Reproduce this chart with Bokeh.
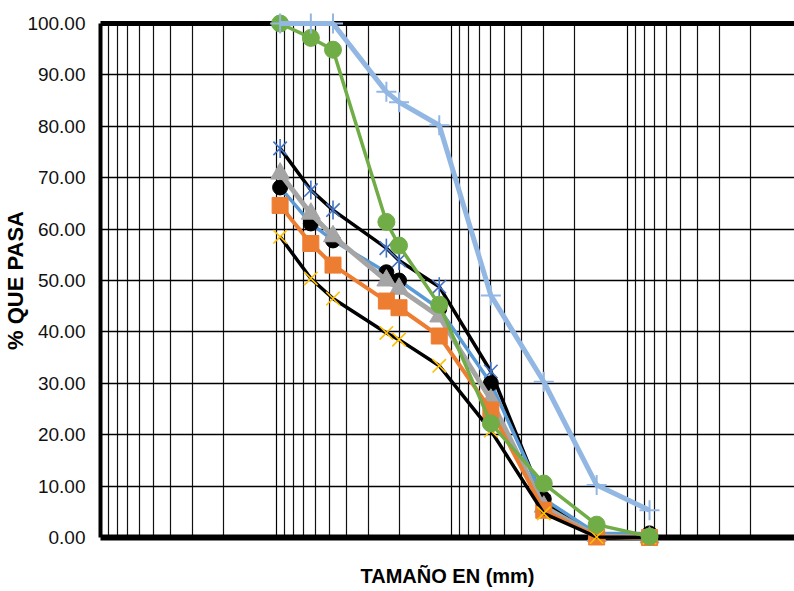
import math
from bokeh.plotting import figure
from bokeh.models import Range1d, FixedTicker, LogAxis, PrintfTickFormatter
from bokeh.embed import file_html
from bokeh.resources import INLINE

# Sieve openings (mm)
sizes_mm = [9.5, 6.35, 4.75, 2.36, 2.0, 1.18, 0.6, 0.3, 0.15, 0.075]

# % passing for each sample
s_asterisk = [75.7, 67.6, 63.7, 56.3, 53.9, 48.8, 32.3, 7.0, 0.4, 0.2]
s_black_circle = [68.1, 61.1, 57.8, 51.6, 50.0, 44.5, 30.0, 7.5, 0.8, 0.8]
s_triangle = [70.8, 63.0, 58.6, 50.0, 48.4, 43.0, 26.8, 6.0, 0.3, 0.0]
s_square = [64.6, 57.2, 53.0, 46.0, 44.7, 39.2, 24.8, 5.3, 0.1, 0.0]
s_x = [58.5, 50.4, 46.5, 39.8, 38.5, 33.4, 20.8, 4.7, 0.1, 0.0]
s_green = [100.0, 97.2, 94.9, 61.4, 56.8, 45.3, 22.2, 10.5, 2.5, 0.2]
s_lightblue = [100.0, 100.0, 100.0, 86.7, 84.7, 80.2, 47.1, 30.3, 10.2, 5.3]

y_ticks = [0, 10, 20, 30, 40, 50, 60, 70, 80, 90, 100]
x_decades = [100, 10, 1, 0.1, 0.01]
x_minor = [k * d for d in [10, 1, 0.1, 0.01] for k in range(2, 10)]

FONT = "Liberation Sans"

p = figure(width=794, height=591, x_axis_type="log",
           x_range=Range1d(100, 0.01122), y_range=Range1d(0, 100),
           output_backend="svg", toolbar_location=None,
           min_border_left=100, min_border_right=0,
           min_border_top=23, min_border_bottom=54)
p.outline_line_color = None
p.background_fill_color = "white"
p.border_fill_color = "white"

# grids
p.xgrid.ticker = FixedTicker(ticks=x_decades, minor_ticks=x_minor)
p.xgrid.grid_line_color = "black"
p.xgrid.grid_line_width = 1.2
p.xgrid.minor_grid_line_color = "#111111"
p.xgrid.minor_grid_line_width = 1.2
p.ygrid.ticker = FixedTicker(ticks=y_ticks)
p.ygrid.grid_line_color = "black"
p.ygrid.grid_line_width = 1.4

# x axis (bottom)
xa = p.xaxis[0]
xa.ticker = FixedTicker(ticks=[])
xa.axis_line_width = 6
xa.axis_line_color = "black"
xa.major_tick_line_color = None
xa.minor_tick_line_color = None
xa.axis_label = "TAMAÑO EN (mm)"
xa.axis_label_text_font = FONT
xa.axis_label_text_font_style = "bold"
xa.axis_label_text_font_size = "20px"
xa.axis_label_text_color = "black"
xa.axis_label_standoff = 27

# top border axis
top = LogAxis(ticker=FixedTicker(ticks=[]), axis_line_width=5, axis_line_color="black",
              major_tick_line_color=None, minor_tick_line_color=None)
p.add_layout(top, "above")

# y axis
ya = p.yaxis[0]
ya.ticker = FixedTicker(ticks=y_ticks)
ya.formatter = PrintfTickFormatter(format="%.2f")
ya.axis_line_width = 4
ya.axis_line_color = "black"
ya.major_tick_line_color = None
ya.minor_tick_line_color = None
ya.major_label_standoff = 9
ya.major_label_text_font = FONT
ya.major_label_text_font_size = "19px"
ya.major_label_text_color = "#111111"
ya.axis_label = "% QUE PASA"
ya.axis_label_text_font = FONT
ya.axis_label_text_font_style = "bold"
ya.axis_label_text_font_size = "22px"
ya.axis_label_text_color = "black"
ya.axis_label_standoff = -4

renderers = []
# series
renderers.append(p.line(sizes_mm, s_asterisk, line_color="black", line_width=3.5))
renderers.append(p.scatter(sizes_mm, s_asterisk, marker="x", size=19, line_color="#4472C4", line_width=1.6))
renderers.append(p.scatter(sizes_mm, s_asterisk, marker="dash", angle=math.pi / 2, size=19,
                           line_color="#4472C4", line_width=1.6))

renderers.append(p.line(sizes_mm, s_black_circle, line_color="#5B9BD5", line_width=3.5))
renderers.append(p.scatter(sizes_mm, s_black_circle, marker="circle", size=15, fill_color="black", line_color="black"))

renderers.append(p.line(sizes_mm, s_triangle, line_color="#A5A5A5", line_width=5))
renderers.append(p.scatter(sizes_mm, s_triangle, marker="triangle", size=19, fill_color="#A5A5A5", line_color="#A5A5A5"))

renderers.append(p.line(sizes_mm, s_square, line_color="#ED7D31", line_width=4))
renderers.append(p.scatter(sizes_mm, s_square, marker="square", size=16, fill_color="#ED7D31", line_color="#ED7D31"))

renderers.append(p.line(sizes_mm, s_x, line_color="black", line_width=3.5))
renderers.append(p.scatter(sizes_mm, s_x, marker="x", size=19, line_color="#FFC000", line_width=1.6))

renderers.append(p.line(sizes_mm, s_green, line_color="#70AD47", line_width=3.5))
renderers.append(p.scatter(sizes_mm, s_green, marker="circle", size=17, fill_color="#70AD47", line_color="#70AD47"))

renderers.append(p.line(sizes_mm, s_lightblue, line_color="#93B7E3", line_width=5))
renderers.append(p.scatter(sizes_mm, s_lightblue, marker="cross", size=20, line_color="#93B7E3", line_width=2))

for r in renderers:
    r.level = "overlay"

open("out.html", "w").write(file_html(p, INLINE))
